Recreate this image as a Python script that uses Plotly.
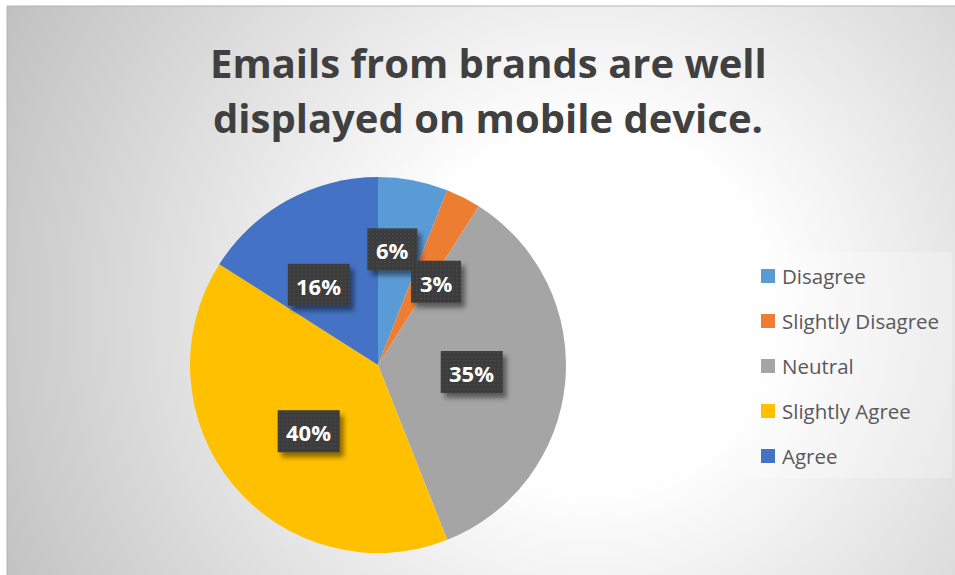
import base64
import numpy as np
import plotly.graph_objects as go

# ---- data -------------------------------------------------------------
labels = ["Disagree", "Slightly Disagree", "Neutral", "Slightly Agree", "Agree"]
values = [6, 3, 35, 40, 16]
colors = ["#5B9BD5", "#ED7D31", "#A5A5A5", "#FFC000", "#4472C4"]
title_lines = ["Emails from brands are well", "displayed on mobile device."]

# ---- geometry (pixels) -------------------------------------------------
W, H = 955, 575
CX, CY, R = 378, 365, 188          # pie centre and radius
CHART_X0, CHART_Y0 = 7, 6          # chart area top-left corner

# per-slice label placement: radius fraction and angular nudge (deg)
label_rfrac = [0.62, 0.54, 0.50, 0.51, 0.53]
label_nudge = [-3.7, 7.9, -1.1, -4.1, -7.6]

FONT = "Open Sans"


def px(x):
    return x / W


def py(y):
    return 1 - y / H


def svg_uri(svg):
    return "data:image/svg+xml;base64," + base64.b64encode(svg.encode()).decode()


# radial gradient chart background
bg_w, bg_h = W - CHART_X0, H - CHART_Y0
bg_svg = f"""<svg xmlns='http://www.w3.org/2000/svg' width='{bg_w}' height='{bg_h}' viewBox='0 0 {bg_w} {bg_h}'>
<defs><radialGradient id='g' gradientUnits='userSpaceOnUse' cx='{590-CHART_X0}' cy='{310-CHART_Y0}' r='660'>
<stop offset='0' stop-color='#ffffff'/><stop offset='0.27' stop-color='#ffffff'/>
<stop offset='1' stop-color='#c0c0c0'/></radialGradient></defs>
<rect width='{bg_w}' height='{bg_h}' fill='url(#g)'/></svg>"""


def label_box_svg(w, h, pad):
    tw, th = w + 2 * pad, h + 2 * pad
    return f"""<svg xmlns='http://www.w3.org/2000/svg' width='{tw}' height='{th}' viewBox='0 0 {tw} {th}'>
<defs>
<filter id='b' x='-30%' y='-30%' width='160%' height='160%'><feGaussianBlur stdDeviation='2.5'/></filter>
<pattern id='p' width='4' height='4' patternUnits='userSpaceOnUse'>
<rect width='4' height='4' fill='#3c3c3c'/><rect x='1' y='1' width='1.3' height='1.3' fill='#4f4f4f'/>
</pattern></defs>
<rect x='{pad+4}' y='{pad+5}' width='{w}' height='{h}' fill='rgba(0,0,0,0.45)' filter='url(#b)'/>
<rect x='{pad}' y='{pad}' width='{w}' height='{h}' fill='url(#p)'/>
</svg>"""


fig = go.Figure()
fig.add_trace(go.Pie(
    labels=labels,
    values=values,
    marker=dict(colors=colors, line=dict(width=0)),
    sort=False,
    direction="clockwise",
    rotation=0,
    textinfo="none",
    hoverinfo="label+percent",
    domain=dict(x=[px(CX - R), px(CX + R)], y=[py(CY + R), py(CY - R)]),
    showlegend=False,
))

images = [dict(source=svg_uri(bg_svg), xref="paper", yref="paper",
               x=px(CHART_X0), y=py(CHART_Y0), sizex=bg_w / W, sizey=bg_h / H,
               xanchor="left", yanchor="top", sizing="stretch", layer="below")]
annotations = []
shapes = []

# chart border lines (top and left)
shapes.append(dict(type="line", xref="paper", yref="paper",
                   x0=px(CHART_X0), x1=1, y0=py(CHART_Y0), y1=py(CHART_Y0),
                   line=dict(color="#b4b4b4", width=1)))
shapes.append(dict(type="line", xref="paper", yref="paper",
                   x0=px(CHART_X0), x1=px(CHART_X0), y0=0, y1=py(CHART_Y0),
                   line=dict(color="#b4b4b4", width=1)))

# title
for i, line in enumerate(title_lines):
    annotations.append(dict(text=f"<b>{line}</b>", xref="paper", yref="paper",
                            x=px(488), y=py(62 + 56 * i), xanchor="center", yanchor="middle",
                            showarrow=False, font=dict(family=FONT, size=40, color="#404040")))

# data labels in dark boxes
vals = np.array(values, dtype=float)
mid = (np.cumsum(vals) - vals / 2) / vals.sum() * 360
total = vals.sum()
for i, v in enumerate(values):
    pct = f"{round(v / total * 100):d}%"
    ang = np.deg2rad(mid[i] + label_nudge[i])
    r = label_rfrac[i] * R
    lx = CX + r * np.sin(ang)
    ly = CY - r * np.cos(ang)
    bw, bh, pad = 26 + 12 * len(pct), 42, 12
    images.append(dict(source=svg_uri(label_box_svg(bw, bh, pad)), xref="paper", yref="paper",
                       x=px(lx), y=py(ly), sizex=(bw + 2 * pad) / W, sizey=(bh + 2 * pad) / H,
                       xanchor="center", yanchor="middle", sizing="stretch", layer="above"))
    annotations.append(dict(text=f"<b>{pct}</b>", xref="paper", yref="paper",
                            x=px(lx), y=py(ly + 1), xanchor="center", yanchor="middle",
                            showarrow=False, font=dict(family=FONT, size=22, color="#ffffff")))

# legend
shapes.append(dict(type="rect", xref="paper", yref="paper", x0=px(745), x1=px(952),
                   y0=py(478), y1=py(252), fillcolor="rgba(255,255,255,0.25)",
                   line=dict(width=0), layer="below"))
for i, (lab, col) in enumerate(zip(labels, colors)):
    yc = 276 + 45 * i
    shapes.append(dict(type="rect", xref="paper", yref="paper",
                       x0=px(761), x1=px(775), y0=py(yc + 7), y1=py(yc - 7),
                       fillcolor=col, line=dict(width=0)))
    annotations.append(dict(text=lab, xref="paper", yref="paper", x=px(780), y=py(yc),
                            xanchor="left", yanchor="middle", showarrow=False,
                            font=dict(family=FONT, size=20.5, color="#595959")))

fig.update_layout(
    width=W, height=H,
    margin=dict(l=0, r=0, t=0, b=0),
    paper_bgcolor="#ffffff",
    images=images,
    annotations=annotations,
    shapes=shapes,
    showlegend=False,
)

fig.write_html("out.html")
